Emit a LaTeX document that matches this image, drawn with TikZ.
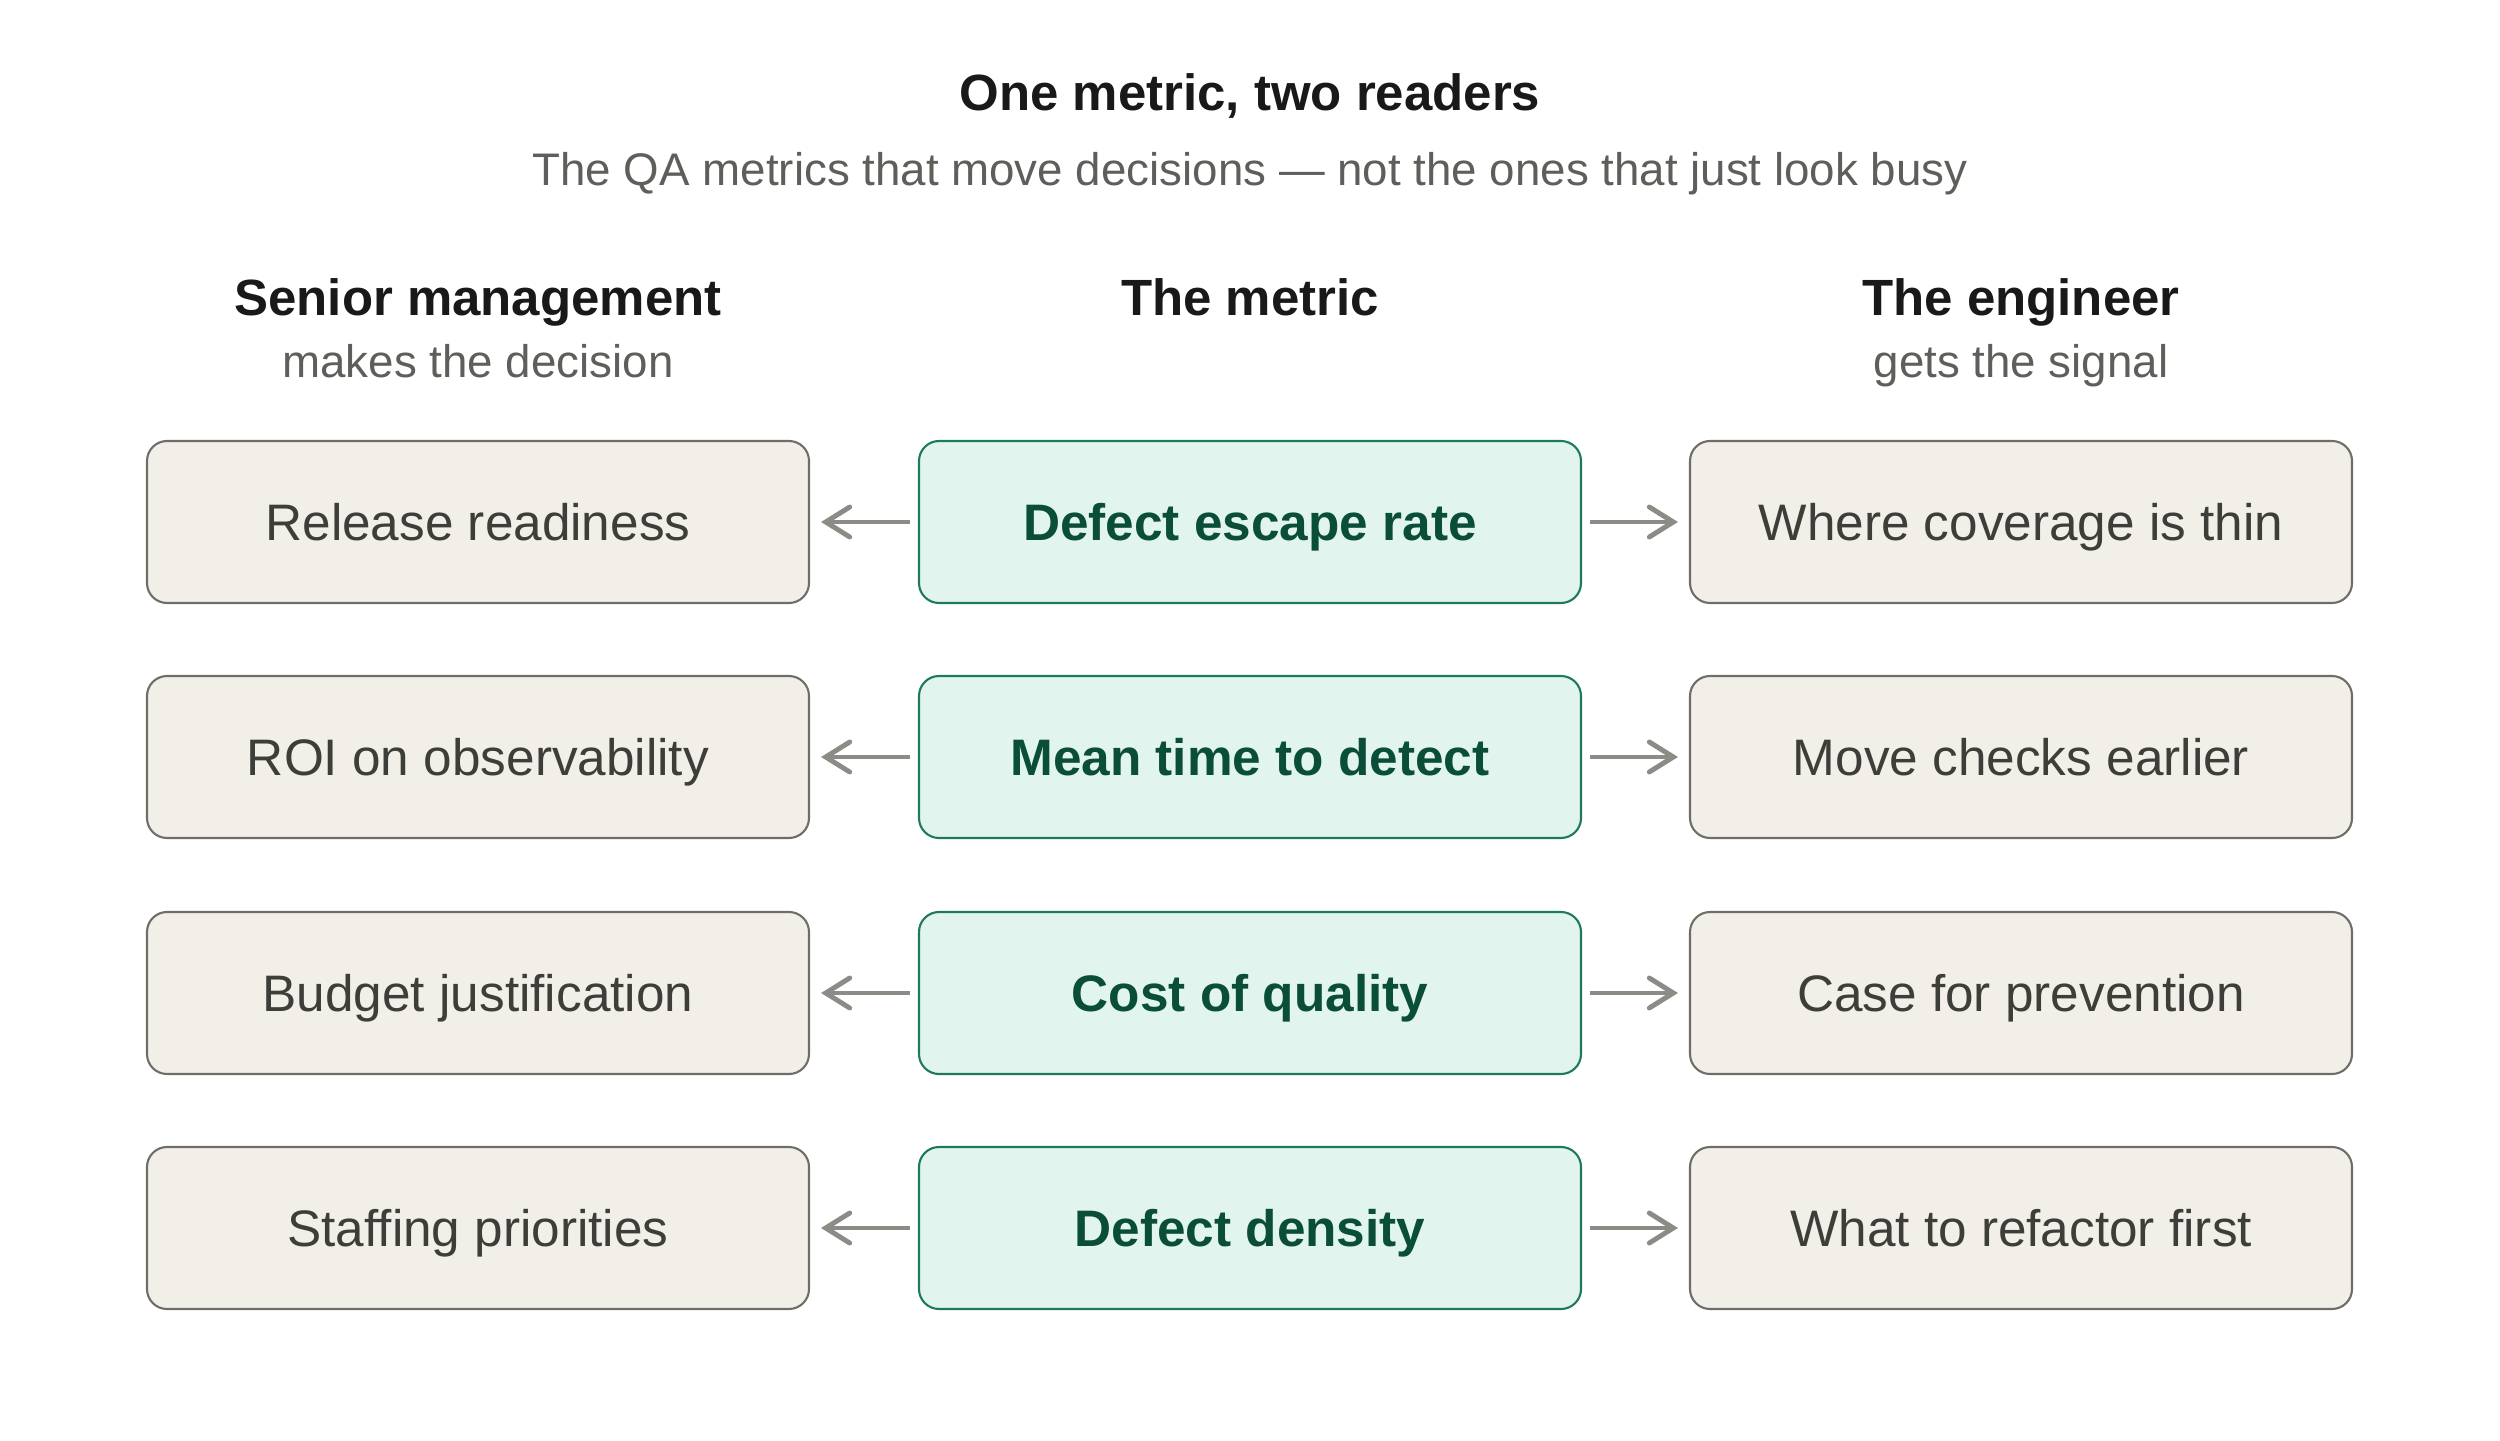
\documentclass[tikz,border=0pt]{standalone}
\usepackage{fontspec}
\setmainfont{Liberation Sans}
\usetikzlibrary{arrows.meta}
\definecolor{boxfill}{HTML}{F1EFE8}
\definecolor{boxline}{HTML}{6E6D68}
\definecolor{boxtext}{HTML}{3D3D3A}
\definecolor{metfill}{HTML}{E1F5EE}
\definecolor{metline}{HTML}{1D7A5C}
\definecolor{mettext}{HTML}{0A4D38}
\definecolor{arrowgray}{HTML}{8C8B86}
\definecolor{subgray}{HTML}{5F5E5A}
\begin{document}
\begin{tikzpicture}[
    reader/.style={draw=boxline, line width=0.6pt, fill=boxfill, rounded corners=0.2cm,
      minimum width=6.62cm, minimum height=1.62cm, text height=1.2em, text depth=0.16em,
      text=boxtext, font=\fontsize{14.6}{17}\selectfont},
    metric/.style={reader, draw=metline, fill=metfill, text=mettext,
      font=\fontsize{14.6}{17}\selectfont\bfseries},
    head/.style={anchor=base, text=black!90, font=\fontsize{14.5}{17}\selectfont\bfseries},
    subhead/.style={anchor=base, text=subgray, font=\fontsize{13}{16}\selectfont},
    link/.style={draw=arrowgray, line width=1.4pt,
      -{Straight Barb[length=2.4mm, width=3mm, line cap=round]}}
  ]
  \useasboundingbox (0,0) rectangle (25,-14.41);
  \node[head] (title) at (12.5,-1.11) {One metric, two readers};
  \node[subhead] (subtitle) at (12.5,-1.86) {The QA metrics that move decisions — not the ones that just look busy};
  \node[head] (mgmt) at (4.78,-3.16) {Senior management};
  \node[subhead] (mgmtsub) at (4.78,-3.77) {makes the decision};
  \node[head] (metric) at (12.5,-3.16) {The metric};
  \node[head] (eng) at (20.21,-3.16) {The engineer};
  \node[subhead] (engsub) at (20.21,-3.77) {gets the signal};
  % management side
  \node[reader] (s1) at (4.78,-5.22) {Release readiness};
  \node[reader] (s2) at (4.78,-7.57) {ROI on observability};
  \node[reader] (s3) at (4.78,-9.93) {Budget justification};
  \node[reader] (s4) at (4.78,-12.28) {Staffing priorities};
  % metrics
  \node[metric] (m1) at (12.5,-5.22) {Defect escape rate};
  \node[metric] (m2) at (12.5,-7.57) {Mean time to detect};
  \node[metric] (m3) at (12.5,-9.93) {Cost of quality};
  \node[metric] (m4) at (12.5,-12.28) {Defect density};
  % engineer side
  \node[reader] (e1) at (20.21,-5.22) {Where coverage is thin};
  \node[reader] (e2) at (20.21,-7.57) {Move checks earlier};
  \node[reader] (e3) at (20.21,-9.93) {Case for prevention};
  \node[reader] (e4) at (20.21,-12.28) {What to refactor first};
  \begin{scope}[link, shorten <=0.08cm, shorten >=0.11cm]
    \draw (m1) to (s1);
    \draw (m2) to (s2);
    \draw (m3) to (s3);
    \draw (m4) to (s4);
    \draw (m1) to (e1);
    \draw (m2) to (e2);
    \draw (m3) to (e3);
    \draw (m4) to (e4);
  \end{scope}
\end{tikzpicture}
\end{document}
